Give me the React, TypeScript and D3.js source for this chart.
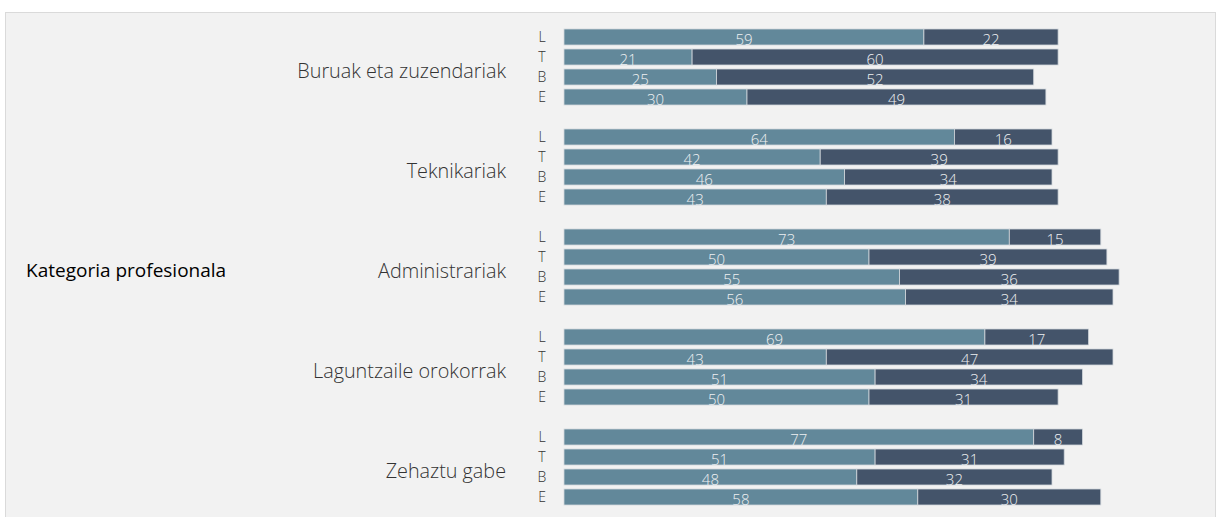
import React from "react";
import * as d3 from "d3";

const categories = [
  "Buruak eta zuzendariak",
  "Teknikariak",
  "Administrariak",
  "Laguntzaile orokorrak",
  "Zehaztu gabe",
];
const subgroups = ["L", "T", "B", "E"];
// first (light) series values, per category, per subgroup L,T,B,E
const lightValues = [
  [59, 21, 25, 30],
  [64, 42, 46, 43],
  [73, 50, 55, 56],
  [69, 43, 51, 50],
  [77, 51, 48, 58],
];
// second (dark) series values
const darkValues = [
  [22, 60, 52, 49],
  [16, 39, 34, 38],
  [15, 39, 36, 34],
  [17, 47, 34, 31],
  [8, 31, 32, 30],
];
const mainLabel = "Kategoria profesionala";

const W = 1217;
const H = 517;
const FONT = "'Open Sans', 'Noto Sans', sans-serif";
const LIGHT = "#62889a";
const DARK = "#44546a";

export default function App() {
  const x = d3.scaleLinear().domain([0, 100]).range([564, 1174]);
  const yOuter = d3.scaleBand<string>().domain(categories).range([17, 517]).padding(0);
  const yInner = d3
    .scaleBand<string>()
    .domain(subgroups)
    .range([0, yOuter.bandwidth()])
    .paddingInner(0.2)
    .paddingOuter(0.6);
  const bh = yInner.bandwidth();

  return (
    <svg
      width={W}
      height={H}
      style={{ position: "absolute", left: 0, top: 0, fontFamily: FONT }}
    >
      <rect x={0} y={0} width={W} height={H} fill="#ffffff" />
      <rect x={5.5} y={12.5} width={1210} height={520} fill="#f2f2f2" stroke="#dadada" strokeWidth={1} />
      <text x={26} y={277} fontSize={19} fill="#000">
        {mainLabel}
      </text>
      {categories.map((cat, ci) => {
        const gy = yOuter(cat)!;
        return (
          <g key={cat}>
            <text
              x={506}
              y={gy + 61}
              textAnchor="end"
              fontSize={19.8}
              fontWeight={300}
              fill="#333"
            >
              {cat}
            </text>
            {subgroups.map((s, si) => {
              const by = gy + yInner(s)!;
              const a = lightValues[ci][si];
              const b = darkValues[ci][si];
              const x0 = x(0);
              const x1 = x(a);
              const x2 = x(a + b);
              return (
                <g key={s}>
                  <text
                    x={542}
                    y={by + bh / 2 + 5}
                    textAnchor="middle"
                    fontSize={14}
                    fontWeight={300}
                    fill="#333"
                  >
                    {s}
                  </text>
                  <rect x={x0} y={by} width={x1 - x0} height={bh} fill={LIGHT} stroke="#d3d8dc" strokeWidth={0.8} />
                  <rect x={x1} y={by} width={x2 - x1} height={bh} fill={DARK} stroke="#d3d8dc" strokeWidth={0.8} />
                  <text
                    x={(x0 + x1) / 2}
                    y={by + bh / 2 + 8}
                    textAnchor="middle"
                    fontSize={15}
                    fontWeight={300}
                    fill="#eef0f2"
                  >
                    {a}
                  </text>
                  <text
                    x={(x1 + x2) / 2}
                    y={by + bh / 2 + 8}
                    textAnchor="middle"
                    fontSize={15}
                    fontWeight={300}
                    fill="#eef0f2"
                  >
                    {b}
                  </text>
                </g>
              );
            })}
          </g>
        );
      })}
    </svg>
  );
}
